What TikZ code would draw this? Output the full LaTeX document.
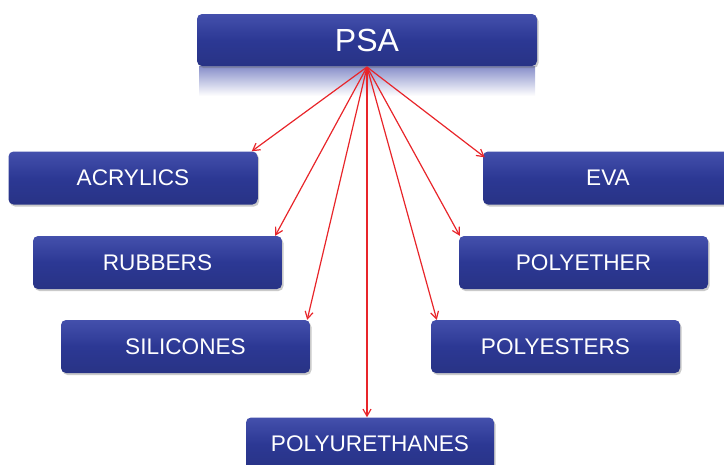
\documentclass[tikz,border=0pt]{standalone}
\usepackage{fontspec}
\setmainfont{Liberation Sans}
\usetikzlibrary{calc,arrows.meta,shadows}
\definecolor{boxtop}{HTML}{4450AC}
\definecolor{boxmid}{HTML}{2C3894}
\definecolor{boxbot}{HTML}{283385}
\definecolor{arr}{HTML}{E8252A}
\tikzset{
  catbox/.style={rounded corners=5pt, minimum width=249pt, minimum height=53pt,
    top color=boxtop, bottom color=boxbot, middle color=boxmid, draw=none,
    text=white, font=\fontsize{22.6}{24}\selectfont,
    drop shadow={shadow xshift=1.5pt, shadow yshift=-2pt, opacity=0.35, fill=black!60}},
  link/.style={draw=arr, line width=1.2pt, -{Straight Barb[length=7pt,width=8pt]}}
}
\begin{document}
\begin{tikzpicture}[x=1pt,y=-1pt]
\useasboundingbox (0,0) rectangle (724,464);
\clip (0,0) rectangle (724,464);
% reflection of PSA box
\shade[top color=boxtop!65, bottom color=white] (199,66) rectangle (535,96);
\node[catbox, minimum width=340pt, minimum height=52pt, font=\fontsize{32}{34}\selectfont] (psa) at (367,40) {PSA};
\node[catbox] (acr) at (133,178) {ACRYLICS};
\node[catbox, minimum width=250pt] (eva) at (608,178) {EVA};
\node[catbox] (rub) at (157.5,262.5) {RUBBERS};
\node[catbox] (pet) at (583.5,262.5) {POLYETHER};
\node[catbox] (sil) at (185.5,346.5) {SILICONES};
\node[catbox] (pes) at (555.5,346.5) {POLYESTERS};
\node[catbox, minimum width=248pt] (pur) at (370,444) {POLYURETHANES};
\coordinate (src) at (367,67);
\draw[link] (src) -- ($(acr.north east)+(-6,0)$);
\draw[link] (src) -- ($(rub.north east)+(-7,0)$);
\draw[link] (src) -- ($(sil.north east)+(-3,0)$);
\draw[link] (src) -- ($(pur.north)+(-3,0)$);
\draw[link] (src) -- ($(pes.north west)+(6,0)$);
\draw[link] (src) -- ($(pet.north west)+(1,0)$);
\draw[link] (src) -- ($(eva.north west)+(2,6)$);
\end{tikzpicture}
\end{document}
